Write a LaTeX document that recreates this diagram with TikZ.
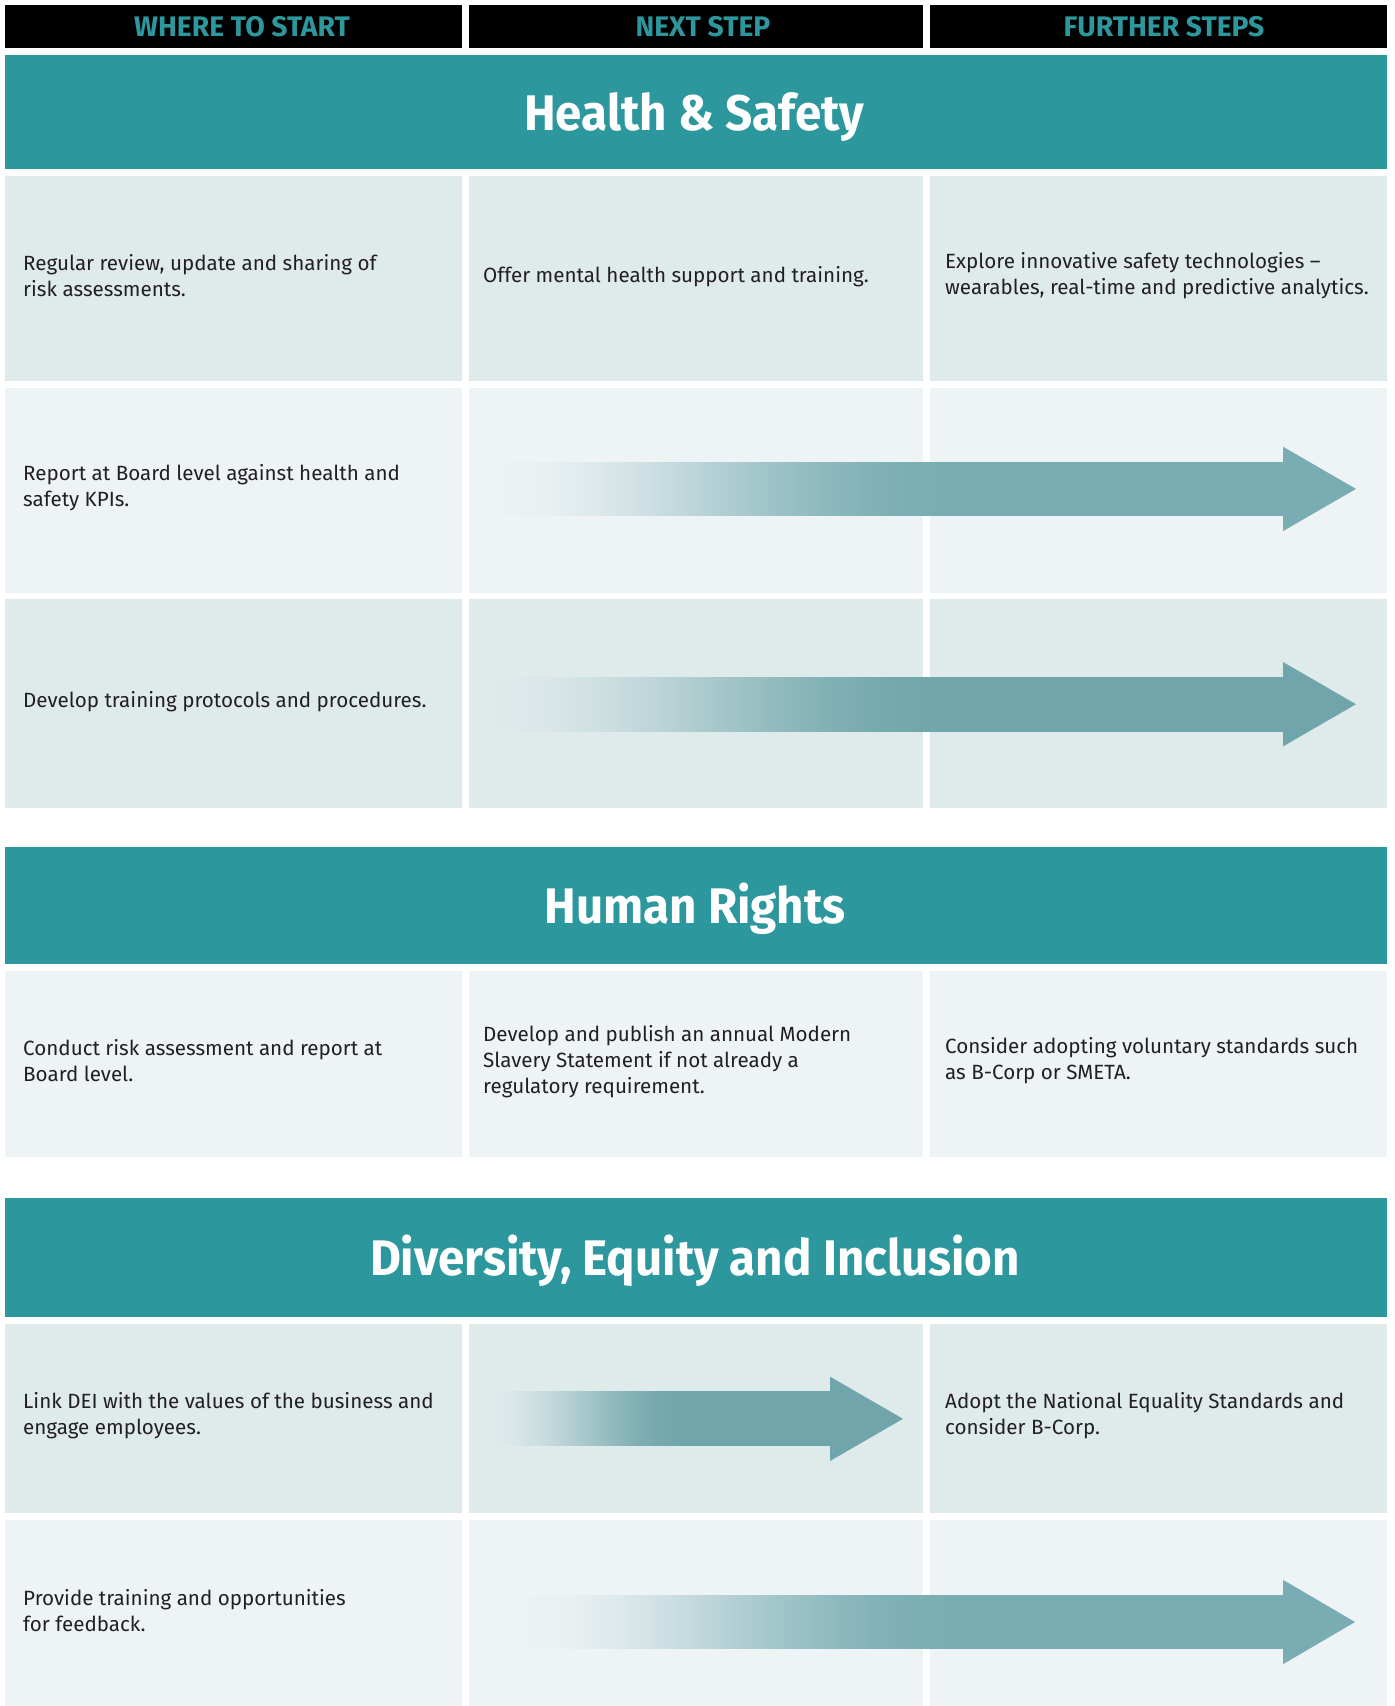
\documentclass[tikz,border=0pt]{standalone}
\usepackage{fontspec}
\setmainfont{Fira Sans}
\newfontfamily\titlefont[FakeStretch=0.95]{Fira Sans}
\definecolor{bannerc}{HTML}{2C979C}
\definecolor{darkrow}{HTML}{DFEAEB}
\definecolor{lightrow}{HTML}{EEF3F5}
\definecolor{arrowlt}{HTML}{79ADB3}
\definecolor{arrowdk}{HTML}{70A6AB}
\definecolor{bodytext}{HTML}{231F20}
\colorlet{abg}{lightrow}
\colorlet{afg}{arrowlt}
% fade from the row colour to the arrow colour over the first 57% of the shaft
\pgfdeclarehorizontalshading[abg,afg]{arrowfade}{100bp}{%
  color(0bp)=(abg); color(25bp)=(abg);
  color(28.5625bp)=(afg!4.3!abg); color(32.125bp)=(afg!15.6!abg);
  color(35.6875bp)=(afg!31.6!abg); color(39.25bp)=(afg!50!abg);
  color(42.8125bp)=(afg!68.4!abg); color(46.375bp)=(afg!84.4!abg);
  color(49.9375bp)=(afg!95.7!abg); color(53.5bp)=(afg); color(100bp)=(afg)}
\tikzset{
  hdrtext/.style={text=bannerc, font=\bfseries\fontsize{28.3}{30}\selectfont, inner sep=0, anchor=base},
  titletext/.style={text=white, font=\titlefont\bfseries\fontsize{50}{56}\selectfont, inner sep=0, anchor=base},
  celltext/.style={text=bodytext, font=\fontsize{20.6}{26}\selectfont, align=left, anchor=west, inner sep=0},
}
% #1 start, #2 head base, #3 tip, #4 y centre, #5 row colour, #6 arrow colour
\newcommand\myarrow[6]{%
  \colorlet{abg}{#5}\colorlet{afg}{#6}%
  \shade[shading=arrowfade] (#1,#4-26.85) rectangle (#2+0.5,#4+26.85);
  \fill[#6] (#2,#4-42.2) -- (#3,#4) -- (#2,#4+42.2) -- cycle;
}
\newcommand\myrow[3]{%
  \fill[#3] (4.5,#1) rectangle (462,#2);
  \fill[#3] (469,#1) rectangle (923,#2);
  \fill[#3] (929.5,#1) rectangle (1387,#2);
}
\begin{document}
\begin{tikzpicture}[x=1pt,y=-1pt]
\fill[white] (0,0) rectangle (1395,1706);
\useasboundingbox (0,0) rectangle (1395,1706);
% header
\myrow{5}{48.3}{black}
\node[hdrtext] (hd1) at (242,36.3) {WHERE TO START};
\node[hdrtext] (hd2) at (703,36.3) {NEXT STEP};
\node[hdrtext] (hd3) at (1164,36.3) {FURTHER STEPS};
% Health & Safety
\fill[bannerc] (4.5,55) rectangle (1387,169);
\node[titletext] (t1) at (694,130) {Health \& Safety};
\myrow{176}{381}{darkrow}
\myrow{387.7}{592.7}{lightrow}
\myrow{599}{807.7}{darkrow}
\node[celltext] (c11) at (23,275.5) {Regular review, update and sharing of\\risk assessments.};
\node[celltext] (c12) at (483,276.5) {Offer mental health support and training.};
\node[celltext] (c13) at (945,275.5) {Explore innovative safety technologies –\\wearables, real-time and predictive analytics.};
\node[celltext] (c21) at (23,487.2) {Report at Board level against health and\\safety KPIs.};
\node[celltext] (c31) at (23,701.4) {Develop training protocols and procedures.};
\myarrow{488}{1283}{1356}{488.9}{lightrow}{arrowlt}
\myarrow{487}{1283}{1356}{704.2}{darkrow}{arrowdk}
% Human Rights
\fill[bannerc] (4.5,846.7) rectangle (1387,964);
\node[titletext] (t2) at (695,923.4) {Human Rights};
\myrow{971}{1156.7}{lightrow}
\node[celltext] (c41) at (23,1060.8) {Conduct risk assessment and report at\\Board level.};
\node[celltext] (c42) at (483,1061.3) {Develop and publish an annual Modern\\Slavery Statement if not already a\\regulatory requirement.};
\node[celltext] (c43) at (945,1060.8) {Consider adopting voluntary standards such\\as B-Corp or SMETA.};
% DEI
\fill[bannerc] (4.5,1198) rectangle (1387,1316.7);
\node[titletext] (t3) at (695,1275.5) {Diversity, Equity and Inclusion};
\myrow{1324}{1512.7}{darkrow}
\myrow{1520}{1706}{lightrow}
\node[celltext] (c51) at (23,1416) {Link DEI with the values of the business and\\engage employees.};
\node[celltext] (c53) at (945,1416) {Adopt the National Equality Standards and\\consider B-Corp.};
\node[celltext] (c61) at (23,1611) {Provide training and opportunities\\for feedback.};
\myarrow{486}{830}{903}{1418.8}{darkrow}{arrowdk}
\myarrow{512}{1283}{1355}{1622}{lightrow}{arrowlt}
\end{tikzpicture}
\end{document}
